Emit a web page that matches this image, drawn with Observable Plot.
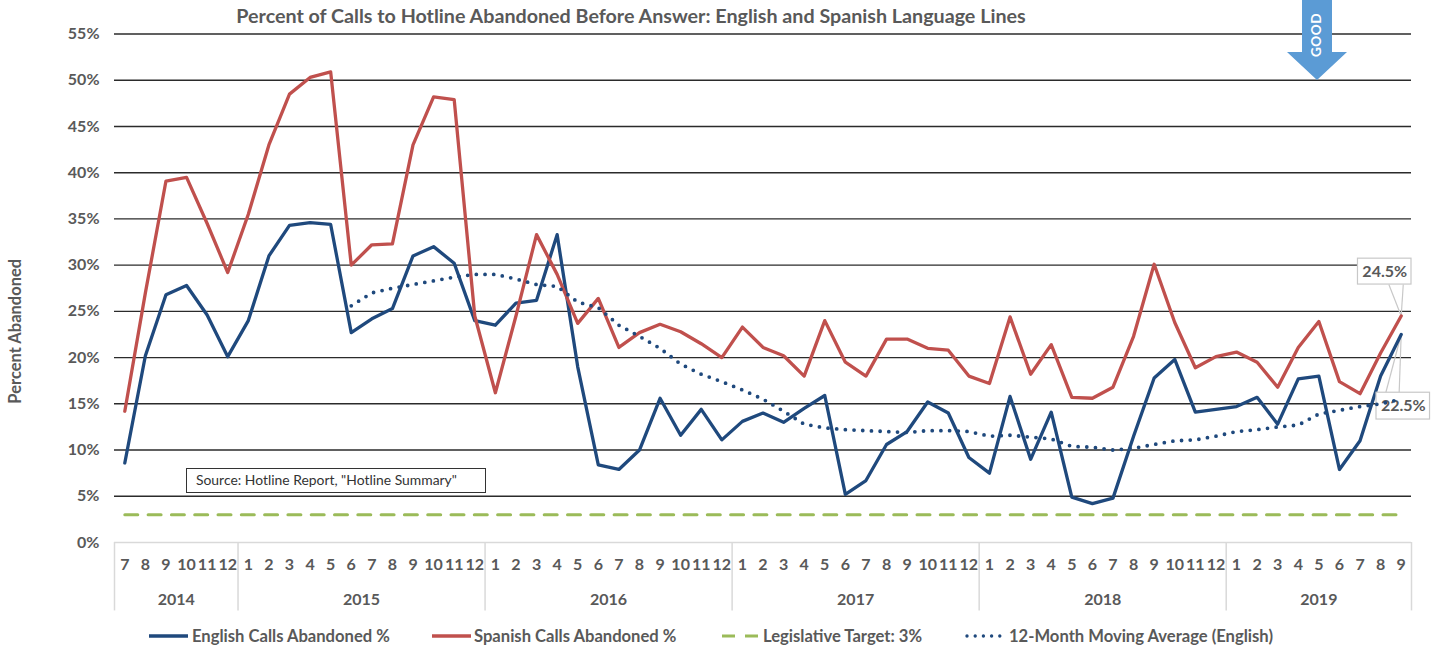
<!DOCTYPE html>
<html>
<head>
<meta charset="utf-8">
<script src="https://cdn.jsdelivr.net/npm/d3@7"></script>
<script src="https://cdn.jsdelivr.net/npm/@observablehq/plot@0.6"></script>
<style>
  html, body { margin: 0; padding: 0; background: #fff; }
  #wrap { position: relative; width: 1438px; height: 650px; overflow: hidden; font-family: Lato, sans-serif; }
  #wrap svg { display: block; }
  .title { position: absolute; left: 0; top: 4px; width: 1262px; text-align: center; font-size: 19.7px; font-weight: 700; color: #595959; white-space: nowrap; }
  .source { position: absolute; left: 186px; top: 468px; width: 300px; height: 25px; box-sizing: border-box; border: 1.5px solid #333; background: #fff; font-size: 13.9px; line-height: 22px; padding-left: 9px; color: #333; white-space: nowrap; }
  .leg { position: absolute; top: 627px; font-size: 16.6px; font-weight: 700; color: #595959; white-space: nowrap; line-height: 18px; }
  .sw { position: absolute; top: 630px; }
  .good { position: absolute; left: 1280px; top: 0; }
</style>
</head>
<body>
<div id="wrap"></div>
<script>
const months = [7,8,9,10,11,12,
  1,2,3,4,5,6,7,8,9,10,11,12,
  1,2,3,4,5,6,7,8,9,10,11,12,
  1,2,3,4,5,6,7,8,9,10,11,12,
  1,2,3,4,5,6,7,8,9,10,11,12,
  1,2,3,4,5,6,7,8,9];
const years = [2014,2015,2016,2017,2018,2019];
const monthsPerYear = [6,12,12,12,12,9];
const english = [8.6,20.2,26.8,27.8,24.6,20.1,
  24,31,34.3,34.6,34.4,22.7,24.2,25.3,31,32,30.2,24,
  23.5,25.9,26.2,33.3,19,8.4,7.9,10,15.6,11.6,14.4,11.1,
  13.1,14,13,14.5,15.9,5.2,6.7,10.6,12,15.2,14,9.2,
  7.5,15.8,9,14.1,4.9,4.2,4.8,11.5,17.8,19.8,14.1,14.4,
  14.7,15.7,12.8,17.7,18,7.9,11,18,22.5];
const spanish = [14.2,27,39.1,39.5,34.5,29.2,
  35.5,43,48.5,50.3,50.9,30,32.2,32.3,43,48.2,47.9,24.5,
  16.2,24.5,33.3,29,23.7,26.4,21.1,22.7,23.6,22.8,21.5,20,
  23.3,21.1,20.2,18,24,19.5,18,22,22,21,20.8,18,
  17.2,24.4,18.2,21.4,15.7,15.6,16.8,22.3,30.1,23.8,18.9,20.1,
  20.6,19.5,16.8,21.1,23.9,17.4,16.1,20.5,24.5];
const movingAverage = [25.6,27,27.5,27.9,28.3,28.7,
  29,29,28.5,27.9,27.7,26,25.4,23.5,22.3,21,19.3,18.2,17.4,
  16.5,15.5,14.2,12.8,12.4,12.2,12.1,12,11.9,12.1,12.1,12,
  11.5,11.6,11.4,11.2,10.4,10.3,10,10.2,10.6,11,11.1,11.5,
  12,12.2,12.5,12.7,13.9,14.3,14.7,15,15.5];
const target = 3;
const yTicks = [0,5,10,15,20,25,30,35,40,45,50,55];

const grey = "#595959";
const font = {fontWeight: 700, fill: grey, fontSize: 16};
const n = months.length;
const at = i => i + 0.5;
const last = at(n - 1);
const engRows = english.map((v, i) => ({x: at(i), v}));
const spaRows = spanish.map((v, i) => ({x: at(i), v}));
const maRows = movingAverage.map((v, i) => ({x: at(n - movingAverage.length + i), v}));
const targetRows = months.map((m, i) => ({x: at(i), v: target}));

let acc = 0;
const yearRows = years.map((y, i) => { const s = acc; acc += monthsPerYear[i]; return {y, mid: s + monthsPerYear[i] / 2, start: s}; });
const bounds = yearRows.map(d => d.start).concat([n]);

// callouts: the label box sits above (Spanish) / below (English) the last point
const belowAxis = -7.4;
const calloutA = {x: last, v: spanish[n - 1], label: spanish[n - 1].toFixed(1) + "%", boxLo: 27.9, boxHi: 30.7, left: -2.1, right: 0.5, leadL: -0.6, leadR: 0.1};
const calloutB = {x: last, v: english[n - 1], label: english[n - 1].toFixed(1) + "%", boxLo: 13.3, boxHi: 16.2, left: -1.2, right: 1.4, leadL: -0.75, leadR: -0.1};
const callouts = [calloutA, calloutB];

const chart = Plot.plot({
  width: 1438, height: 650,
  marginLeft: 114, marginRight: 27, marginTop: 33.5, marginBottom: 108,
  style: {fontFamily: "Lato, sans-serif", background: "#fff", overflow: "visible"},
  x: {domain: [0, n]},
  y: {domain: [0, 55]},
  marks: [
    Plot.ruleY(yTicks.filter(d => d > 0), {stroke: "#2b2b2b", strokeWidth: 1.4}),
    Plot.ruleY([0], {stroke: "#d9d9d9", strokeWidth: 1.5}),
    Plot.ruleX(bounds, {y1: 0, y2: belowAxis, stroke: "#d9d9d9", strokeWidth: 1.5}),
    Plot.axisY({ticks: yTicks, tickFormat: d => d + "%", tickSize: 0, tickPadding: 15, label: null, ...font}),
    Plot.axisX({ticks: months.map((m, i) => at(i)), tickFormat: (d, i) => months[i], tickSize: 0, tickPadding: 16.5, label: null, ...font}),
    Plot.text(yearRows, {x: "mid", y: 0, text: d => String(d.y), dy: 57, ...font}),
    Plot.text(["Percent Abandoned"], {frameAnchor: "left", textAnchor: "middle", dx: -99, dy: 43, rotate: -90, fontWeight: 700, fill: grey, fontSize: 16.5}),
    Plot.line(targetRows, {x: "x", y: "v", stroke: "#9bbb59", strokeWidth: 3, strokeDasharray: "13 10.3"}),
    Plot.link(callouts, {x1: d => d.x + d.leadL, y1: d => d.v > 23 ? d.boxLo : d.boxHi, x2: d => d.x, y2: d => d.v, stroke: "#c8c8c8", strokeWidth: 1.2}),
    Plot.link(callouts, {x1: d => d.x + d.leadR, y1: d => d.v > 23 ? d.boxLo : d.boxHi, x2: d => d.x, y2: d => d.v, stroke: "#c8c8c8", strokeWidth: 1.2}),
    Plot.line(engRows, {x: "x", y: "v", stroke: "#1f497d", strokeWidth: 3.3}),
    Plot.line(spaRows, {x: "x", y: "v", stroke: "#c0504d", strokeWidth: 3.3}),
    Plot.rect(callouts, {x1: d => d.x + d.left, x2: d => d.x + d.right, y1: "boxLo", y2: "boxHi", fill: "#fff", stroke: "#c8c8c8", strokeWidth: 1.2, clip: false}),
    Plot.text(callouts, {x: d => d.x + (d.left + d.right) / 2, y: d => (d.boxLo + d.boxHi) / 2, text: "label", ...font}),
    Plot.line(maRows, {x: "x", y: "v", stroke: "#1f497d", strokeWidth: 3.8, strokeDasharray: "0 8.7", strokeLinecap: "round"})
  ]
});

const wrap = document.getElementById("wrap");
wrap.appendChild(chart);

function add(html) { wrap.insertAdjacentHTML("beforeend", html); }
add('<div class="title">Percent of Calls to Hotline Abandoned Before Answer: English and Spanish Language Lines</div>');
add('<div class="source">Source: Hotline Report, "Hotline Summary"</div>');
add('<svg class="good" width="80" height="90"><polygon points="22,0 52,0 52,52 67,52 37,80 7,52 22,52" fill="#5b9bd5"/><text transform="translate(41,35) rotate(-90)" text-anchor="middle" fill="#fff" font-family="Lato, sans-serif" font-weight="700" font-size="13.5" letter-spacing="0.5">GOOD</text></svg>');

const legend = [
  {label: "English Calls Abandoned %", x: 149, w: 39, tx: 192, color: "#1f497d", sw: 3.3, dash: ""},
  {label: "Spanish Calls Abandoned %", x: 432, w: 39, tx: 474, color: "#c0504d", sw: 3.3, dash: ""},
  {label: "Legislative Target: 3%", x: 722, w: 36, tx: 763, color: "#9bbb59", sw: 3, dash: "13 10"},
  {label: "12-Month Moving Average (English)", x: 965, w: 41, tx: 1009, color: "#1f497d", sw: 3.4, dash: "0 8.2", cap: "round"}
];
legend.forEach(l => {
  add(`<svg class="sw" style="left:${l.x}px" width="${l.w}" height="12"><line x1="${l.cap ? 2 : 0}" x2="${l.w}" y1="6" y2="6" stroke="${l.color}" stroke-width="${l.sw}" stroke-dasharray="${l.dash}" stroke-linecap="${l.cap || 'butt'}"/></svg>`);
  add(`<div class="leg" style="left:${l.tx}px">${l.label}</div>`);
});
</script>
</body>
</html>
